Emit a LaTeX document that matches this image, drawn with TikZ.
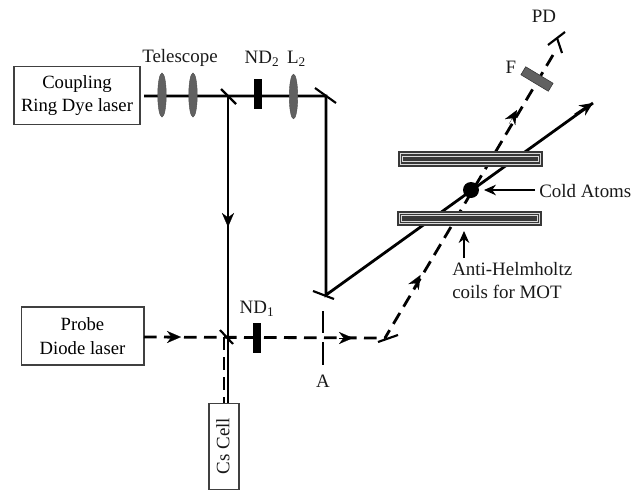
\documentclass[tikz,border=0pt]{standalone}
\usepackage{fontspec}
\setmainfont{Liberation Serif}
\usetikzlibrary{shapes.geometric,arrows.meta}
\definecolor{lensgray}{gray}{0.38}
\definecolor{coildark}{gray}{0.22}
\tikzset{
  lbl/.style={font=\fontsize{14.2pt}{17pt}\selectfont,inner sep=0pt,text=black!90},
  laserbox/.style={draw=black!75,line width=0.8pt,align=center,inner sep=0pt,font=\fontsize{14pt}{17.5pt}\selectfont},
  beam/.style={line width=2.1pt,black},
  probe/.style={line width=2.1pt,black,dash pattern=on 9.5pt off 5.5pt},
  mirror/.style={line width=1.6pt,black},
  lens/.style={ellipse,fill=lensgray,draw=lensgray!80!black,line width=0.3pt,minimum width=6.4pt,minimum height=33pt,inner sep=0pt},
  filterblock/.style={fill=black,minimum width=6pt,minimum height=22.5pt,inner sep=0pt},
  head/.style={-{Stealth[length=9pt,width=8pt]},line width=1.0pt},
  beamhead/.style={-{Stealth[length=10.5pt,width=9pt]},line width=0.1pt},
  sink/.style={line width=1.6pt}
}
\begin{document}
\begin{tikzpicture}[x=0.75pt,y=-0.75pt]
\useasboundingbox (0,0) rectangle (644,493);
\node[laserbox,minimum width=94.5pt,minimum height=44pt] (coupling) at (77,95.5) {Coupling\\Ring Dye laser};
\node[laserbox,minimum width=92.2pt,minimum height=43.5pt] (probebox) at (82.5,336) {Probe\\Diode laser};
\coordinate (cstart) at (144,96);
\coordinate (m1) at (228,96);
\coordinate (m2) at (326,96);
\coordinate (m3) at (326,295);
\coordinate (out) at (593,103);
\coordinate (celltop) at (228,403);
\coordinate (celltopb) at (224,403);
\coordinate (bsb) at (224,337);
\coordinate (m4) at (385,338);
\coordinate (pd) at (553,55);
\coordinate (probestart) at (144,337);
\draw[beam] (cstart) -- (m2) -- (m3) -- (out);
\draw[beam] (m1) -- (celltop);
\draw[probe] (probestart) -- (m4);
\draw[probe] (pd) -- (m4);
\draw[probe,line width=1.7pt] (bsb) -- (celltopb);
\node[laserbox,fill=white,minimum width=22.5pt,minimum height=65pt] (cell) at (224,446.5) {};
\node[lbl,rotate=90] (celltxt) at (223,446) {Cs Cell};
\node[lens] (l1) at (162,95) {};
\node[lens] (l2) at (193,95) {};
\node[lens,minimum height=33.5pt] (l3) at (293.5,96.5) {};
\node[filterblock] (nd2) at (257.5,94) {};
\node[filterblock] (nd1) at (257,338) {};
\draw[mirror] (221,89) -- (236,104);
\draw[mirror] (315,88) -- (336,103);
\draw[mirror] (313,291) -- (334,299);
\draw[mirror] (220,330) -- (233,344);
\draw[mirror] (378,342) -- (398,335);
\coordinate (a1) at (323,311);
\coordinate (a2) at (323,333);
\coordinate (a3) at (323,342);
\coordinate (a4) at (323,365);
\draw[line width=0.9pt] (a1) -- (a2) (a3) -- (a4);
\foreach \nm/\xa/\ya/\xb/\yb in {a/228/216/228/227, b/167/337/181/337, c/339/338/353/338, d/413/288/420.5/275, e/509/124/517/110}{
  \coordinate (t\nm) at (\xa,\ya); \coordinate (u\nm) at (\xb,\yb);
  \draw[beamhead] (t\nm) -- (u\nm);
}
\coordinate (outb) at (575,115);
\draw[-{Stealth[length=10pt,width=9pt]},line width=2.1pt] (outb) -- (out);
\foreach \nm/\cx/\cy in {top/470.5/159,bot/469.5/218.5}{
  \node[fill=coildark,minimum width=108.7pt,minimum height=11.4pt,inner sep=0pt] (coil\nm) at (\cx,\cy) {};
  \draw[white!85!black,line width=0.6pt] ([xshift=1.9pt,yshift=-1.9pt]coil\nm.north west) rectangle ([xshift=-1.9pt,yshift=1.9pt]coil\nm.south east);
  \draw[white!85!black,line width=0.6pt] ([xshift=3.6pt,yshift=-3.8pt]coil\nm.north west) rectangle ([xshift=-3.6pt,yshift=3.8pt]coil\nm.south east);
}
\node[circle,fill=black,minimum size=12pt,inner sep=0pt] (atoms) at (471,190) {};
\node[fill=black!62,draw=black!80,line width=0.4pt,minimum width=24pt,minimum height=7pt,inner sep=0pt,rotate=-31] (filt) at (537,79) {};
\coordinate (d1) at (548,45);
\coordinate (d2) at (565,32);
\coordinate (d3) at (557,38);
\coordinate (d4) at (562,53);
\draw[sink] (d1) -- (d2);
\draw[sink] (d3) -- (d4);
\node[lbl] (tele) at (180,58) {Telescope};
\node[lbl] (ndtwo) at (262,59) {ND\textsubscript{2}};
\node[lbl] (ltwo) at (296.5,59) {L\textsubscript{2}};
\node[lbl] (ndone) at (257,309) {ND\textsubscript{1}};
\node[lbl] (alabel) at (323,381) {A};
\node[lbl] (pdl) at (544,16) {PD};
\node[lbl] (fl) at (511,67) {F};
\node[lbl,anchor=west] (cold) at (539,191) {Cold Atoms};
\node[lbl,anchor=west] (anti) at (452,269) {Anti-Helmholtz};
\node[lbl,anchor=west] (coilsl) at (452,292) {coils for MOT};
\coordinate (ca) at (535,190);
\coordinate (cb) at (484,190);
\draw[head] (ca) -- (cb);
\coordinate (aa) at (464,258);
\coordinate (ab) at (464,231);
\draw[head] (aa) -- (ab);
\end{tikzpicture}
\end{document}
